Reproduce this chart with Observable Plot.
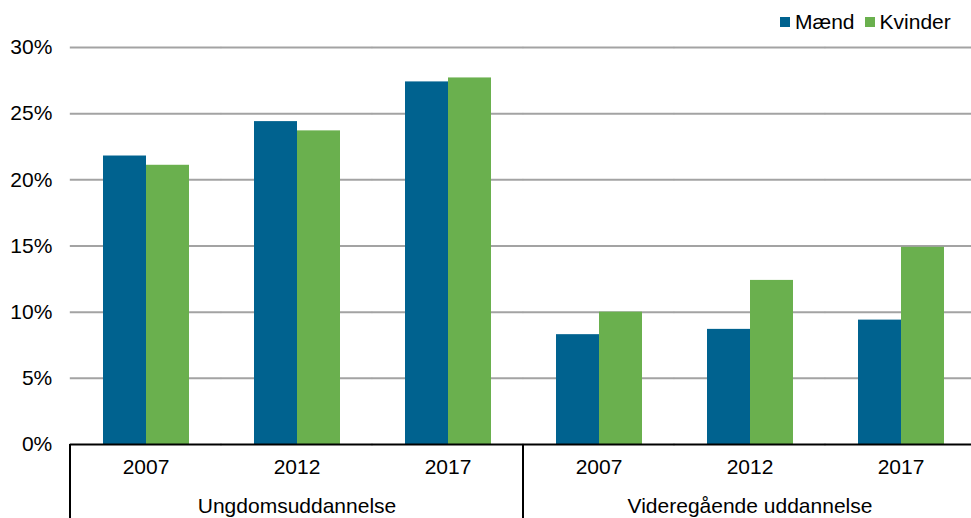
<!DOCTYPE html>
<html>
<head>
<meta charset="utf-8">
<script src="https://cdn.jsdelivr.net/npm/d3@7"></script>
<script src="https://cdn.jsdelivr.net/npm/@observablehq/plot@0.6"></script>
<style>
  html, body { margin: 0; padding: 0; background: #fff; }
  #wrap { position: relative; width: 971px; height: 518px; overflow: hidden; font-family: "Liberation Sans", Arial, sans-serif; }
  #legend { position: absolute; top: 10px; left: 780px; display: flex; align-items: center; font-size: 21px; color: #000; white-space: nowrap; }
  #legend .sw { width: 10px; height: 10px; display: inline-block; margin-right: 5px; }
  #legend .item { display: flex; align-items: center; margin-right: 10px; }
</style>
</head>
<body>
<div id="wrap"><div id="legend"></div></div>
<script>
const groups = ["Ungdomsuddannelse", "Videregående uddannelse"];
const years = ["2007", "2012", "2017"];
const series = ["Mænd", "Kvinder"];
const maend = [21.8, 24.4, 27.4, 8.3, 8.7, 9.4];
const kvinder = [21.1, 23.7, 27.7, 10.0, 12.4, 14.9];
const yTicks = [0, 0.05, 0.10, 0.15, 0.20, 0.25, 0.30];
const colors = ["#00628f", "#6ab04e"];

const keys = [];
groups.forEach(g => years.forEach(y => keys.push(g + "|" + y)));
const data = [];
keys.forEach((k, i) => {
  data.push({key: k, sex: series[0], value: maend[i] / 100});
  data.push({key: k, sex: series[1], value: kvinder[i] / 100});
});
const groupLabels = groups.map(g => ({key: g + "|" + years[1], label: g}));

const W = 971, H = 518, mL = 70, mT = 47, mB = 74;
const fxRange = [69.5, 976.5];
const pInner = 0.426;
const step = (fxRange[1] - fxRange[0]) / keys.length;
const half = step * pInner / 2; // half gap between facets, so rules join across facets
const FS = 21;

const chart = Plot.plot({
  width: W,
  height: H,
  marginLeft: mL,
  marginRight: 0,
  marginTop: mT,
  marginBottom: mB,
  style: {fontFamily: "'Liberation Sans', Arial, sans-serif", fontSize: FS + "px", color: "#000", background: "#fff"},
  fx: {domain: keys, range: fxRange, paddingInner: pInner, paddingOuter: pInner / 2, label: null,
       tickFormat: k => k.split("|")[1], tickSize: 0, tickPadding: 15},
  x: {domain: series, padding: 0, axis: null},
  y: {domain: [0, 0.3]},
  color: {domain: series, range: colors},
  marks: [
    Plot.ruleY(yTicks.slice(1), {stroke: "#a3a3a3", strokeWidth: 2, insetLeft: -half, insetRight: -half}),
    Plot.axisY(yTicks, {tickSize: 0, tickPadding: 18 + half, tickFormat: ".0%", label: null, fontSize: FS}),
    Plot.barY(data, {fx: "key", x: "sex", y: "value", fill: "sex"}),
    Plot.ruleY([0], {stroke: "#000", strokeWidth: 2, insetLeft: -half, insetRight: -half}),
    Plot.text(groupLabels, {fx: "key", text: "label", frameAnchor: "bottom", dy: 68, fontSize: FS, fill: "#000"})
  ]
});

// group separators positioned through the fx scale
const fxs = chart.scale("fx");
const bw = fxs.bandwidth;
const sepX = [fxs.apply(keys[0]) - (fxs.step - bw) / 2,
              (fxs.apply(keys[2]) + bw + fxs.apply(keys[3])) / 2];
const yb = H - mB;
d3.select(chart).append("g").selectAll("line").data(sepX).join("line")
  .attr("x1", d => d).attr("x2", d => d)
  .attr("y1", yb).attr("y2", H)
  .attr("stroke", "#000").attr("stroke-width", 2);

document.getElementById("wrap").prepend(chart);

const legend = d3.select("#legend");
series.forEach((s, i) => {
  const it = legend.append("div").attr("class", "item");
  it.append("span").attr("class", "sw").style("background", colors[i]);
  it.append("span").text(s);
});
</script>
</body>
</html>
